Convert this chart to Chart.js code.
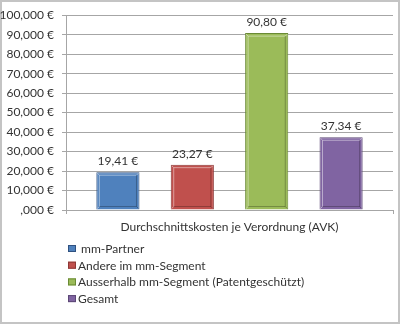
<!DOCTYPE html>
<html>
<head>
<meta charset="utf-8">
<title>Durchschnittskosten je Verordnung</title>
<script src="https://cdn.jsdelivr.net/npm/chart.js@4/dist/chart.umd.min.js"></script>
<style>
  html, body { margin: 0; padding: 0; background: #fff; }
  #wrap { position: relative; width: 400px; height: 324px; }
</style>
</head>
<body>
<div id="wrap"><canvas id="myChart"></canvas></div>
<script>
'use strict';

// chart data
var categories = ['Durchschnittskosten je Verordnung (AVK)'];
var seriesNames = ['mm-Partner', 'Andere im mm-Segment', 'Ausserhalb mm-Segment (Patentgeschützt)', 'Gesamt'];
var seriesValues = [19.41, 23.27, 90.80, 37.34];
var seriesColors = ['#4f81bd', '#c0504d', '#9bbb59', '#8064a2'];
var seriesBorders = ['#2f5180', '#8c3836', '#6a8a35', '#5c4776'];
var yTickLabels = [',000 €', '10,000 €', '20,000 €', '30,000 €', '40,000 €', '50,000 €',
  '60,000 €', '70,000 €', '80,000 €', '90,000 €', '100,000 €'];

var fontFamily = 'Lato, "Open Sans", sans-serif';
var textColor = '#333';

var datasets = [];
for (var i = 0; i < seriesNames.length; i++) {
  datasets.push({
    label: seriesNames[i],
    data: [seriesValues[i]],
    backgroundColor: seriesColors[i],
    borderColor: seriesBorders[i],
    borderWidth: 1,
    barPercentage: 0.58,
    categoryPercentage: 0.91
  });
}

function euro(v) {
  return v.toFixed(2).replace('.', ',') + ' €';
}

// white page with a thin grey frame
var framePlugin = {
  id: 'frame',
  beforeDraw: function(chart) {
    var c = chart.ctx;
    c.save();
    c.fillStyle = '#fff';
    c.fillRect(0, 0, chart.width, chart.height);
    c.strokeStyle = '#c4c4c4';
    c.lineWidth = 2;
    c.strokeRect(1, 1, chart.width - 2, chart.height - 2);
    c.restore();
  }
};

// bevel on the bars + value labels on top
var barExtras = {
  id: 'barExtras',
  afterDatasetsDraw: function(chart) {
    var c = chart.ctx;
    c.save();
    chart.data.datasets.forEach(function(ds, di) {
      var bar = chart.getDatasetMeta(di).data[0];
      var left = bar.x - bar.width / 2;
      var right = bar.x + bar.width / 2;
      var top = bar.y;
      var bottom = bar.base;
      var k = 3;
      c.lineWidth = 1;
      // light edge top and left
      c.strokeStyle = 'rgba(255,255,255,0.45)';
      c.beginPath();
      c.moveTo(left + 1, bottom - 1);
      c.lineTo(left + k, bottom - k);
      c.lineTo(left + k, top + k);
      c.lineTo(right - k, top + k);
      c.lineTo(right - 1, top + 1);
      c.moveTo(left + 1, top + 1);
      c.lineTo(left + k, top + k);
      c.stroke();
      // dark edge bottom and right
      c.strokeStyle = 'rgba(0,0,0,0.25)';
      c.beginPath();
      c.moveTo(right - k, top + k);
      c.lineTo(right - k, bottom - k);
      c.lineTo(left + k, bottom - k);
      c.moveTo(right - 1, bottom - 1);
      c.lineTo(right - k, bottom - k);
      c.stroke();

      c.fillStyle = textColor;
      c.font = '12px ' + fontFamily;
      c.textAlign = 'center';
      c.textBaseline = 'middle';
      c.fillText(euro(ds.data[0]), bar.x, top - 11);
    });
    c.restore();
  }
};

// one legend entry per row under the axis
var stackedLegend = {
  id: 'stackedLegend',
  afterDraw: function(chart) {
    var c = chart.ctx;
    var y0 = 249;
    var step = 16.7;
    c.save();
    c.font = '12px ' + fontFamily;
    c.textAlign = 'left';
    c.textBaseline = 'middle';
    chart.data.datasets.forEach(function(ds, di) {
      var y = y0 + di * step;
      c.fillStyle = ds.backgroundColor;
      c.fillRect(68, y - 4, 8, 7);
      c.strokeStyle = ds.borderColor;
      c.lineWidth = 1;
      c.strokeRect(68.5, y - 3.5, 7, 6);
      c.fillStyle = textColor;
      c.fillText((di === 0 ? ' ' : '') + ds.label, 78, y);
    });
    c.restore();
  }
};

var ctx = document.getElementById('myChart').getContext('2d');
new Chart(ctx, {
  type: 'bar',
  data: {
    labels: categories,
    datasets: datasets
  },
  plugins: [framePlugin, barExtras, stackedLegend],
  options: {
    responsive: true,
    maintainAspectRatio: false,
    animation: false,
    layout: {
      padding: { top: 13, right: 7, bottom: 90, left: 0 }
    },
    plugins: {
      legend: { display: false },
      tooltip: { enabled: false }
    },
    scales: {
      x: {
        grid: {
          display: true,
          drawOnChartArea: false,
          color: '#a6a6a6',
          tickLength: 4
        },
        border: { color: '#a6a6a6' },
        ticks: {
          color: textColor,
          font: { family: fontFamily, size: 12 },
          padding: 6
        },
        afterFit: function(scale) { scale.height = 24; }
      },
      y: {
        min: 0,
        max: 100,
        ticks: {
          stepSize: 10,
          color: textColor,
          font: { family: fontFamily, size: 12 },
          padding: 8,
          callback: function(value, index) { return yTickLabels[index]; }
        },
        grid: {
          color: '#a6a6a6',
          tickLength: 4
        },
        border: { color: '#a6a6a6' },
        afterFit: function(scale) { scale.width = 66; }
      }
    }
  }
});
</script>
</body>
</html>
